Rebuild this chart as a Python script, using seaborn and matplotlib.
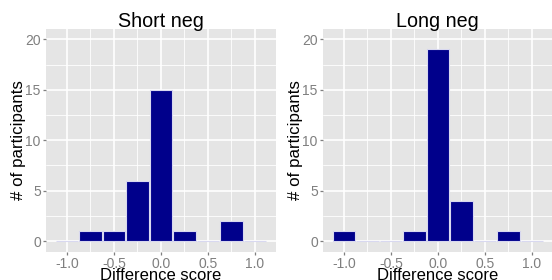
import matplotlib
matplotlib.use("Agg")
import matplotlib.pyplot as plt
import seaborn as sns
import numpy as np
from matplotlib.ticker import MultipleLocator

# ---- data ----
bin_centers = [-1.0, -0.75, -0.5, -0.25, 0.0, 0.25, 0.5, 0.75, 1.0]
short_counts = [0, 1, 1, 6, 15, 1, 0, 2, 0]
long_counts = [1, 0, 0, 1, 19, 4, 0, 1, 0]
panel_titles = ["Short neg", "Long neg"]
x_label = "Difference score"
y_label = "# of participants"
x_ticks = [-1.0, -0.5, 0.0, 0.5, 1.0]
y_ticks = [0, 5, 10, 15, 20]

sns.set_theme(style="darkgrid")
plt.rcParams["font.family"] = ["Liberation Sans", "DejaVu Sans"]
plt.rcParams["axes.unicode_minus"] = False

fig = plt.figure(figsize=(5.52, 2.80), dpi=100)
W, H = 552.0, 280.0
panel_w, panel_h = 230.3, 222.4
bottom = (H - 251.7) / H
lefts = [45.7, 322.7]

for i, (counts, title) in enumerate(zip([short_counts, long_counts], panel_titles)):
    ax = fig.add_axes([lefts[i] / W, bottom, panel_w / W, panel_h / H])
    ax.set_facecolor("#E5E5E5")
    sns.histplot(x=bin_centers, weights=counts, binwidth=0.25,
                 binrange=(-1.125, 1.125), shrink=0.95, color="#00008B",
                 edgecolor="#D8D8F0", linewidth=0.8, alpha=1, ax=ax, zorder=3)
    ax.set_xlim(-1.225, 1.225)
    ax.set_ylim(-1.05, 21.0)
    ax.set_xticks(x_ticks)
    ax.set_xticklabels([f"{t:.1f}" for t in x_ticks])
    ax.set_yticks(y_ticks)
    ax.xaxis.set_minor_locator(MultipleLocator(0.25))
    ax.yaxis.set_minor_locator(MultipleLocator(2.5))
    ax.grid(which="major", color="white", linewidth=1.2, zorder=0)
    ax.grid(which="minor", color="white", linewidth=0.6, zorder=0)
    ax.set_axisbelow(True)
    for s in ax.spines.values():
        s.set_visible(False)
    ax.tick_params(axis="both", which="major", length=2.3, width=0.9,
                   color="#7F7F7F", labelcolor="#7F7F7F", labelsize=10, pad=1.2,
                   bottom=True, left=True)
    ax.tick_params(axis="both", which="minor", length=0)
    ax.set_title(title, fontsize=14.2, color="black", pad=2)
    ax.set_xlabel(x_label, fontsize=12.0, color="black", labelpad=-1.8)
    ax.set_ylabel(y_label, fontsize=12.2, color="black", labelpad=-0.5)

fig.savefig("out.png", dpi=100)
